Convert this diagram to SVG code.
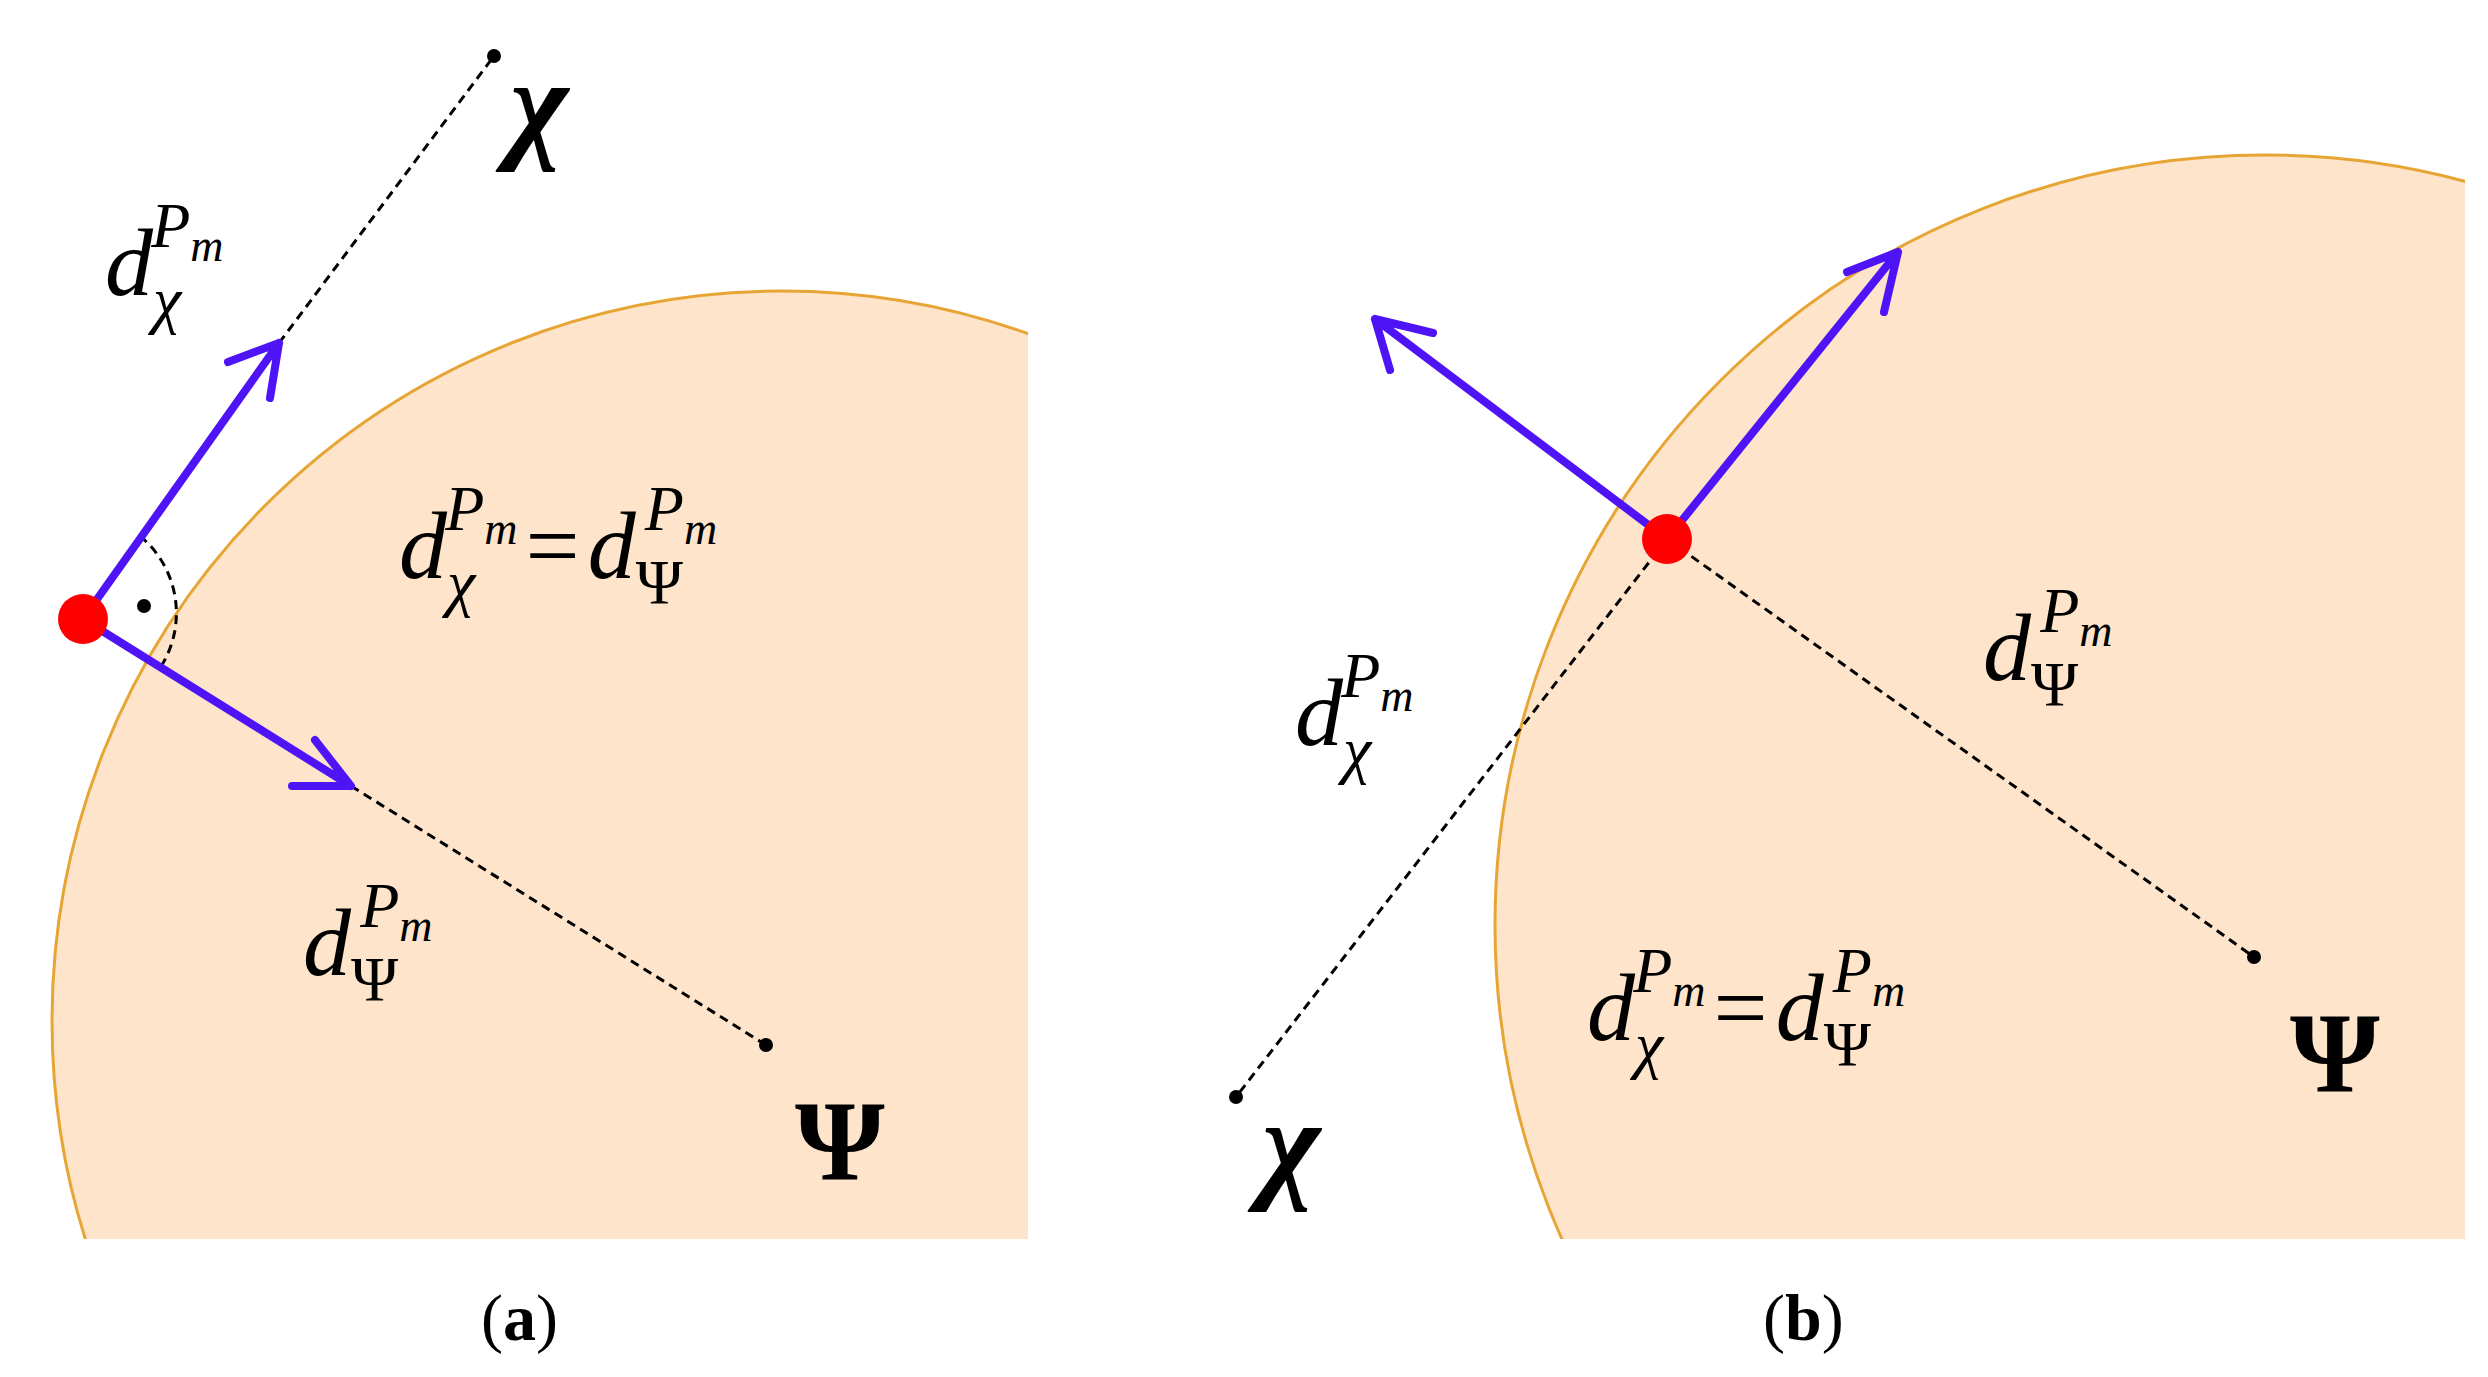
<svg xmlns="http://www.w3.org/2000/svg" width="2488" height="1377" viewBox="0 0 2488 1377">
<style>
.reg{fill:#fde4ca;stroke:#e6a534;stroke-width:3}
.vec{stroke:#4f14f5;stroke-width:8;fill:none;stroke-linecap:round;stroke-linejoin:round}
.dash{stroke:#000;stroke-width:3;stroke-dasharray:9 6;fill:none}
.m{font-family:"Liberation Serif",serif;font-style:italic;fill:#000}
.big{font-size:96px}
.sm{font-size:64px}
.cap{font-family:"Liberation Serif",serif;font-size:66px;fill:#000}
.chi{font-family:"Liberation Serif",serif;font-style:italic;font-weight:bold;font-size:125px}
.psi{font-family:"Liberation Serif",serif;font-weight:bold;font-size:115px}
</style>
<defs>
<clipPath id="ca"><rect x="40" y="280" width="988" height="959"/></clipPath>
<clipPath id="cb"><rect x="1400" y="140" width="1065" height="1099"/></clipPath>
</defs>
<g id="region-a"><circle class="reg" cx="782" cy="1021" r="730" clip-path="url(#ca)"/></g>
<g id="region-b"><circle class="reg" cx="2265" cy="925" r="770" clip-path="url(#cb)"/></g>
<g id="connectors">
<line class="dash" x1="279" y1="343" x2="494" y2="56"/>
<line class="dash" x1="351" y1="786" x2="766" y2="1045"/>
<path class="dash" d="M140,536 A100,100 0 0 1 160,668"/>
<line class="dash" x1="1667" y1="539" x2="1236" y2="1097"/>
<line class="dash" x1="1667" y1="539" x2="2254" y2="957"/>
<path class="vec" d="M83,619 L279,343 M228,362 L279,343 L270,398"/>
<path class="vec" d="M83,619 L351,786 M315,740 L351,786 L292,786"/>
<path class="vec" d="M1667,539 L1898,252 M1847,272 L1898,252 L1884,312"/>
<path class="vec" d="M1667,539 L1375,319 M1390,370 L1375,319 L1433,333"/>
</g>
<g id="points">
<circle cx="83" cy="619" r="25" fill="#f00"/>
<circle cx="1667" cy="539" r="25" fill="#f00"/>
<circle cx="494" cy="56" r="7"/>
<circle cx="766" cy="1045" r="7"/>
<circle cx="144" cy="606" r="7"/>
<circle cx="1236" cy="1097" r="7"/>
<circle cx="2254" cy="957" r="7"/>
</g>
<g id="labels-a">
<text class="chi" x="510" y="145">χ</text>
<text class="psi" x="795" y="1180">Ψ</text>
<text class="m big" x="105" y="295">d<tspan class="sm" dy="26">χ</tspan><tspan class="sm" dx="-30" dy="-74">P<tspan font-size="46" dy="14">m</tspan></tspan></text>
<text class="m big" x="399" y="578">d<tspan class="sm" dy="26">χ</tspan><tspan class="sm" dx="-30" dy="-74">P<tspan font-size="46" dy="14">m</tspan></tspan><tspan font-style="normal" dx="8" dy="34">=</tspan><tspan dx="8">d</tspan><tspan class="sm" font-style="normal" dy="26">Ψ</tspan><tspan class="sm" dx="-38" dy="-74">P<tspan font-size="46" dy="14">m</tspan></tspan></text>
<text class="m big" x="303" y="975">d<tspan class="sm" font-style="normal" dy="26">Ψ</tspan><tspan class="sm" dx="-38" dy="-74">P<tspan font-size="46" dy="14">m</tspan></tspan></text>
<text class="cap" x="481" y="1340">(<tspan font-weight="bold">a</tspan>)</text>
</g>
<g id="labels-b">
<text class="chi" x="1262" y="1185">χ</text>
<text class="psi" x="2290" y="1092">Ψ</text>
<text class="m big" x="1295" y="745">d<tspan class="sm" dy="26">χ</tspan><tspan class="sm" dx="-30" dy="-74">P<tspan font-size="46" dy="14">m</tspan></tspan></text>
<text class="m big" x="1983" y="680">d<tspan class="sm" font-style="normal" dy="26">Ψ</tspan><tspan class="sm" dx="-38" dy="-74">P<tspan font-size="46" dy="14">m</tspan></tspan></text>
<text class="m big" x="1587" y="1040">d<tspan class="sm" dy="26">χ</tspan><tspan class="sm" dx="-30" dy="-74">P<tspan font-size="46" dy="14">m</tspan></tspan><tspan font-style="normal" dx="8" dy="34">=</tspan><tspan dx="8">d</tspan><tspan class="sm" font-style="normal" dy="26">Ψ</tspan><tspan class="sm" dx="-38" dy="-74">P<tspan font-size="46" dy="14">m</tspan></tspan></text>
<text class="cap" x="1763" y="1340">(<tspan font-weight="bold">b</tspan>)</text>
</g>
</svg>
